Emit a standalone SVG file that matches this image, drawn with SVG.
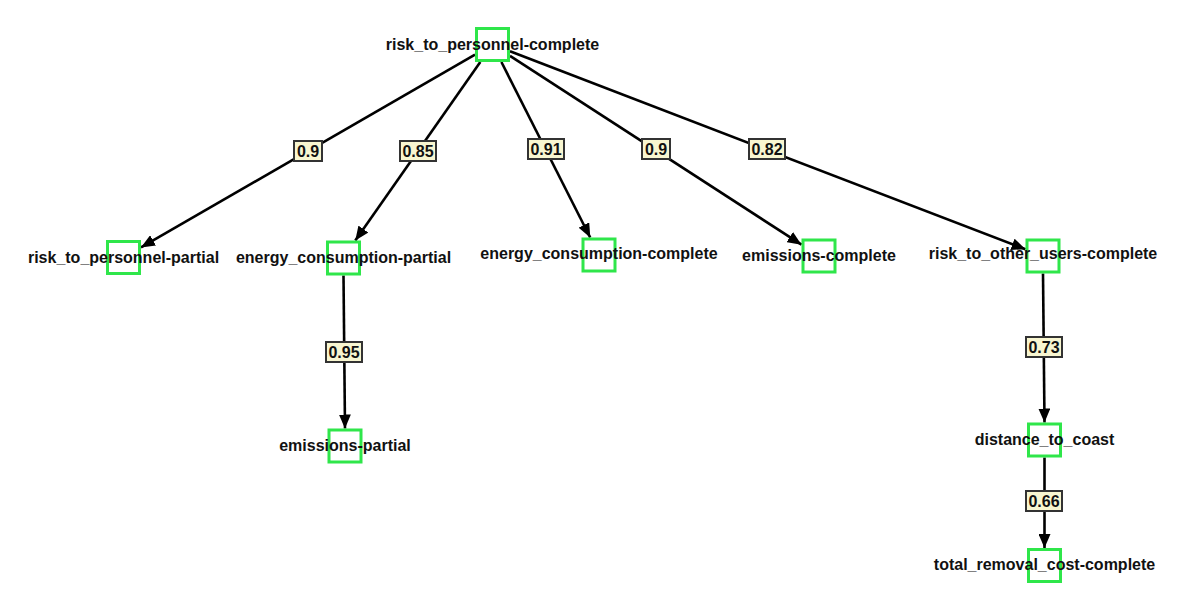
<svg xmlns="http://www.w3.org/2000/svg" width="1178" height="610" viewBox="0 0 1178 610">
  <style>
    .node rect { fill: none; stroke: #2fe64a; stroke-width: 3; }
    .node text { font-family: "Liberation Sans", Arial, sans-serif; font-size: 16px; font-weight: bold; fill: #111; text-anchor: middle; }
    .edge { stroke: #000; stroke-width: 2.6; fill: none; marker-end: url(#arrow); }
    .lbl rect { fill: #f8f6d0; stroke: #333; stroke-width: 2; }
    .lbl text { font-family: "Liberation Sans", Arial, sans-serif; font-size: 16px; font-weight: bold; fill: #111; text-anchor: middle; }
  </style>
  <defs>
    <marker id="arrow" markerUnits="userSpaceOnUse" markerWidth="14" markerHeight="12" viewBox="0 0 14 12" refX="14" refY="6" orient="auto">
      <path d="M0,0 L14,6 L0,12 Z" fill="#000"/>
    </marker>
  </defs>
  <rect width="1178" height="610" fill="#fff"/>

  <!-- connectors -->
  <g id="edges">
    <path class="edge" d="M475,54.6 L141,247.4"/>
    <path class="edge" d="M480.3,62 L355.3,240.5"/>
    <path class="edge" d="M501.4,62 L590.2,237.5"/>
    <path class="edge" d="M510,55.8 L801.5,244.7"/>
    <path class="edge" d="M510,51.2 L1025.5,249.3"/>
    <path class="edge" d="M343.5,275.5 L345,428.5"/>
    <path class="edge" d="M1043,273.5 L1044.5,422.5"/>
    <path class="edge" d="M1044.5,457.5 L1044.5,548"/>

    <g class="lbl"><rect x="294" y="141" width="28" height="20"/><text x="308" y="157">0.9</text></g>
    <g class="lbl"><rect x="400" y="141" width="36" height="20"/><text x="418" y="157">0.85</text></g>
    <g class="lbl"><rect x="528" y="139" width="36" height="20"/><text x="546" y="155">0.91</text></g>
    <g class="lbl"><rect x="642" y="139" width="28" height="20"/><text x="656" y="155">0.9</text></g>
    <g class="lbl"><rect x="749" y="139" width="36" height="20"/><text x="767" y="155">0.82</text></g>
    <g class="lbl"><rect x="326" y="342" width="36" height="20"/><text x="344" y="358">0.95</text></g>
    <g class="lbl"><rect x="1026" y="337" width="36" height="20"/><text x="1044" y="353">0.73</text></g>
    <g class="lbl"><rect x="1026" y="491" width="36" height="20"/><text x="1044" y="507">0.66</text></g>
  </g>

  <!-- nodes -->
  <g id="risk_to_personnel-complete" class="node"><rect x="476.5" y="28.5" width="32" height="32"/><text x="492.5" y="50">risk_to_personnel-complete</text></g>
  <g id="risk_to_personnel-partial" class="node"><rect x="107.5" y="241.5" width="32" height="32"/><text x="123.5" y="263">risk_to_personnel-partial</text></g>
  <g id="energy_consumption-partial" class="node"><rect x="327.5" y="242" width="32" height="32"/><text x="343.5" y="263">energy_consumption-partial</text></g>
  <g id="energy_consumption-complete" class="node"><rect x="583" y="239" width="32" height="32"/><text x="599" y="259">energy_consumption-complete</text></g>
  <g id="emissions-complete" class="node"><rect x="803" y="240" width="32" height="32"/><text x="819" y="261">emissions-complete</text></g>
  <g id="risk_to_other_users-complete" class="node"><rect x="1027" y="240" width="32" height="32"/><text x="1043" y="259">risk_to_other_users-complete</text></g>
  <g id="emissions-partial" class="node"><rect x="329" y="430" width="32" height="32"/><text x="345" y="451">emissions-partial</text></g>
  <g id="distance_to_coast" class="node"><rect x="1028.5" y="424" width="32" height="32"/><text x="1044.5" y="445">distance_to_coast</text></g>
  <g id="total_removal_cost-complete" class="node"><rect x="1028.5" y="549.5" width="32" height="32"/><text x="1044.5" y="570">total_removal_cost-complete</text></g>
</svg>
